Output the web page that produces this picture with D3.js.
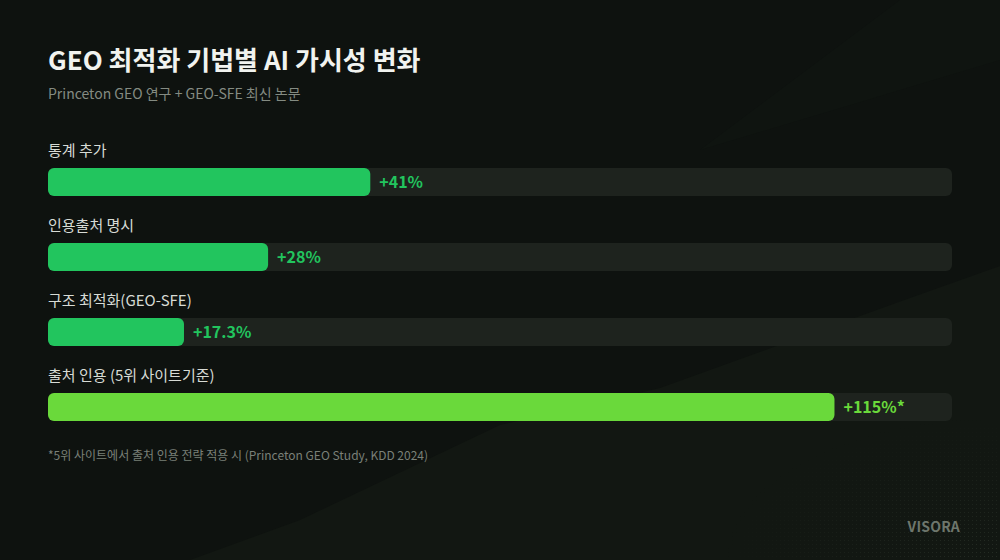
<!DOCTYPE html>
<html>
<head>
<meta charset="utf-8">
<script src="https://cdn.jsdelivr.net/npm/d3@7"></script>
<style>
  html, body { margin: 0; padding: 0; background: #0e120f; }
  svg { display: block; font-family: "Noto Sans CJK KR", "Noto Sans", sans-serif; }
</style>
</head>
<body>
<div id="wrapper"></div>
<script>
// data
const categories = ["통계 추가", "인용출처 명시", "구조 최적화(GEO-SFE)", "출처 인용 (5위 사이트기준)"];
const values = [41, 28, 17.3, 115];
const valueLabels = ["+41%", "+28%", "+17.3%", "+115%*"];
const barColors = ["#22c55e", "#22c55e", "#22c55e", "#6ad93b"];

function drawChart() {
  const dimensions = {
    width: 1000,
    height: 560,
    margin: { top: 130, right: 48, bottom: 120, left: 48 },
  };
  dimensions.boundedWidth = dimensions.width - dimensions.margin.left - dimensions.margin.right;

  const svg = d3.select("#wrapper")
    .append("svg")
    .attr("width", dimensions.width)
    .attr("height", dimensions.height);

  // background
  svg.append("rect")
    .attr("width", dimensions.width)
    .attr("height", dimensions.height)
    .attr("fill", "#0e120f");

  svg.append("path")
    .attr("d", "M700,150 L900,0 L1000,0 L1000,60 Z")
    .attr("fill", "#0f1410");

  svg.append("path")
    .attr("d", "M190,560 L300,520 L500,425 L660,388 L910,298 L1000,266 L1000,560 Z")
    .attr("fill", "#121712");

  // dotted texture, bottom right
  const defs = svg.append("defs");
  const pat = defs.append("pattern")
    .attr("id", "dots")
    .attr("width", 4)
    .attr("height", 4)
    .attr("patternUnits", "userSpaceOnUse");
  pat.append("rect").attr("width", 1).attr("height", 1).attr("fill", "#3a4438");
  const grad = defs.append("radialGradient")
    .attr("id", "fade")
    .attr("cx", 1).attr("cy", 1).attr("r", 0.55);
  grad.append("stop").attr("offset", "0%").attr("stop-color", "#fff").attr("stop-opacity", 0.5);
  grad.append("stop").attr("offset", "100%").attr("stop-color", "#fff").attr("stop-opacity", 0);
  defs.append("mask").attr("id", "fadeMask")
    .append("rect")
    .attr("x", 500).attr("y", 300).attr("width", 500).attr("height", 260)
    .attr("fill", "url(#fade)");
  svg.append("rect")
    .attr("x", 500).attr("y", 300).attr("width", 500).attr("height", 260)
    .attr("fill", "url(#dots)")
    .attr("mask", "url(#fadeMask)");

  // title
  svg.append("text")
    .attr("x", 48)
    .attr("y", 70)
    .attr("fill", "#f1f3ef")
    .attr("font-size", 26)
    .attr("font-weight", 700)
    .text("GEO 최적화 기법별 AI 가시성 변화");

  svg.append("text")
    .attr("x", 48)
    .attr("y", 99)
    .attr("fill", "#848b82")
    .attr("font-size", 14)
    .text("Princeton GEO 연구 + GEO-SFE 최신 논문");

  // scales
  const yScale = d3.scaleBand()
    .domain(categories)
    .range([dimensions.margin.top, dimensions.margin.top + 75 * categories.length]);

  const xScale = d3.scaleLinear()
    .domain([0, d3.max(values)])
    .range([0, dimensions.boundedWidth]);
  const maxBar = dimensions.boundedWidth * 0.87;

  const rows = svg.append("g")
    .selectAll("g")
    .data(categories)
    .join("g")
    .attr("transform", (d) => `translate(${dimensions.margin.left}, ${yScale(d)})`);

  rows.append("text")
    .attr("x", 0)
    .attr("y", 26)
    .attr("fill", "#d7dbd5")
    .attr("font-size", 15)
    .text((d) => d);

  rows.append("rect")
    .attr("y", 38)
    .attr("width", dimensions.boundedWidth)
    .attr("height", 28)
    .attr("rx", 6)
    .attr("fill", "#1e231e");

  const barW = (i) => Math.min(xScale(values[i]), maxBar);

  rows.append("rect")
    .attr("y", 38)
    .attr("width", (d, i) => barW(i))
    .attr("height", 28)
    .attr("rx", 6)
    .attr("fill", (d, i) => barColors[i]);

  rows.append("text")
    .attr("x", (d, i) => barW(i) + 9)
    .attr("y", 52)
    .attr("dy", "0.35em")
    .attr("fill", (d, i) => barColors[i])
    .attr("font-size", 16)
    .attr("font-weight", 700)
    .text((d, i) => valueLabels[i]);

  // footnote
  svg.append("text")
    .attr("x", 48)
    .attr("y", 460)
    .attr("fill", "#7a8078")
    .attr("font-size", 12)
    .text("*5위 사이트에서 출처 인용 전략 적용 시 (Princeton GEO Study, KDD 2024)");

  svg.append("text")
    .attr("x", 960)
    .attr("y", 532)
    .attr("text-anchor", "end")
    .attr("fill", "#6e766c")
    .attr("font-size", 14)
    .attr("font-weight", 700)
    .attr("letter-spacing", 0.2)
    .text("VISORA");
}
drawChart();
</script>
</body>
</html>
